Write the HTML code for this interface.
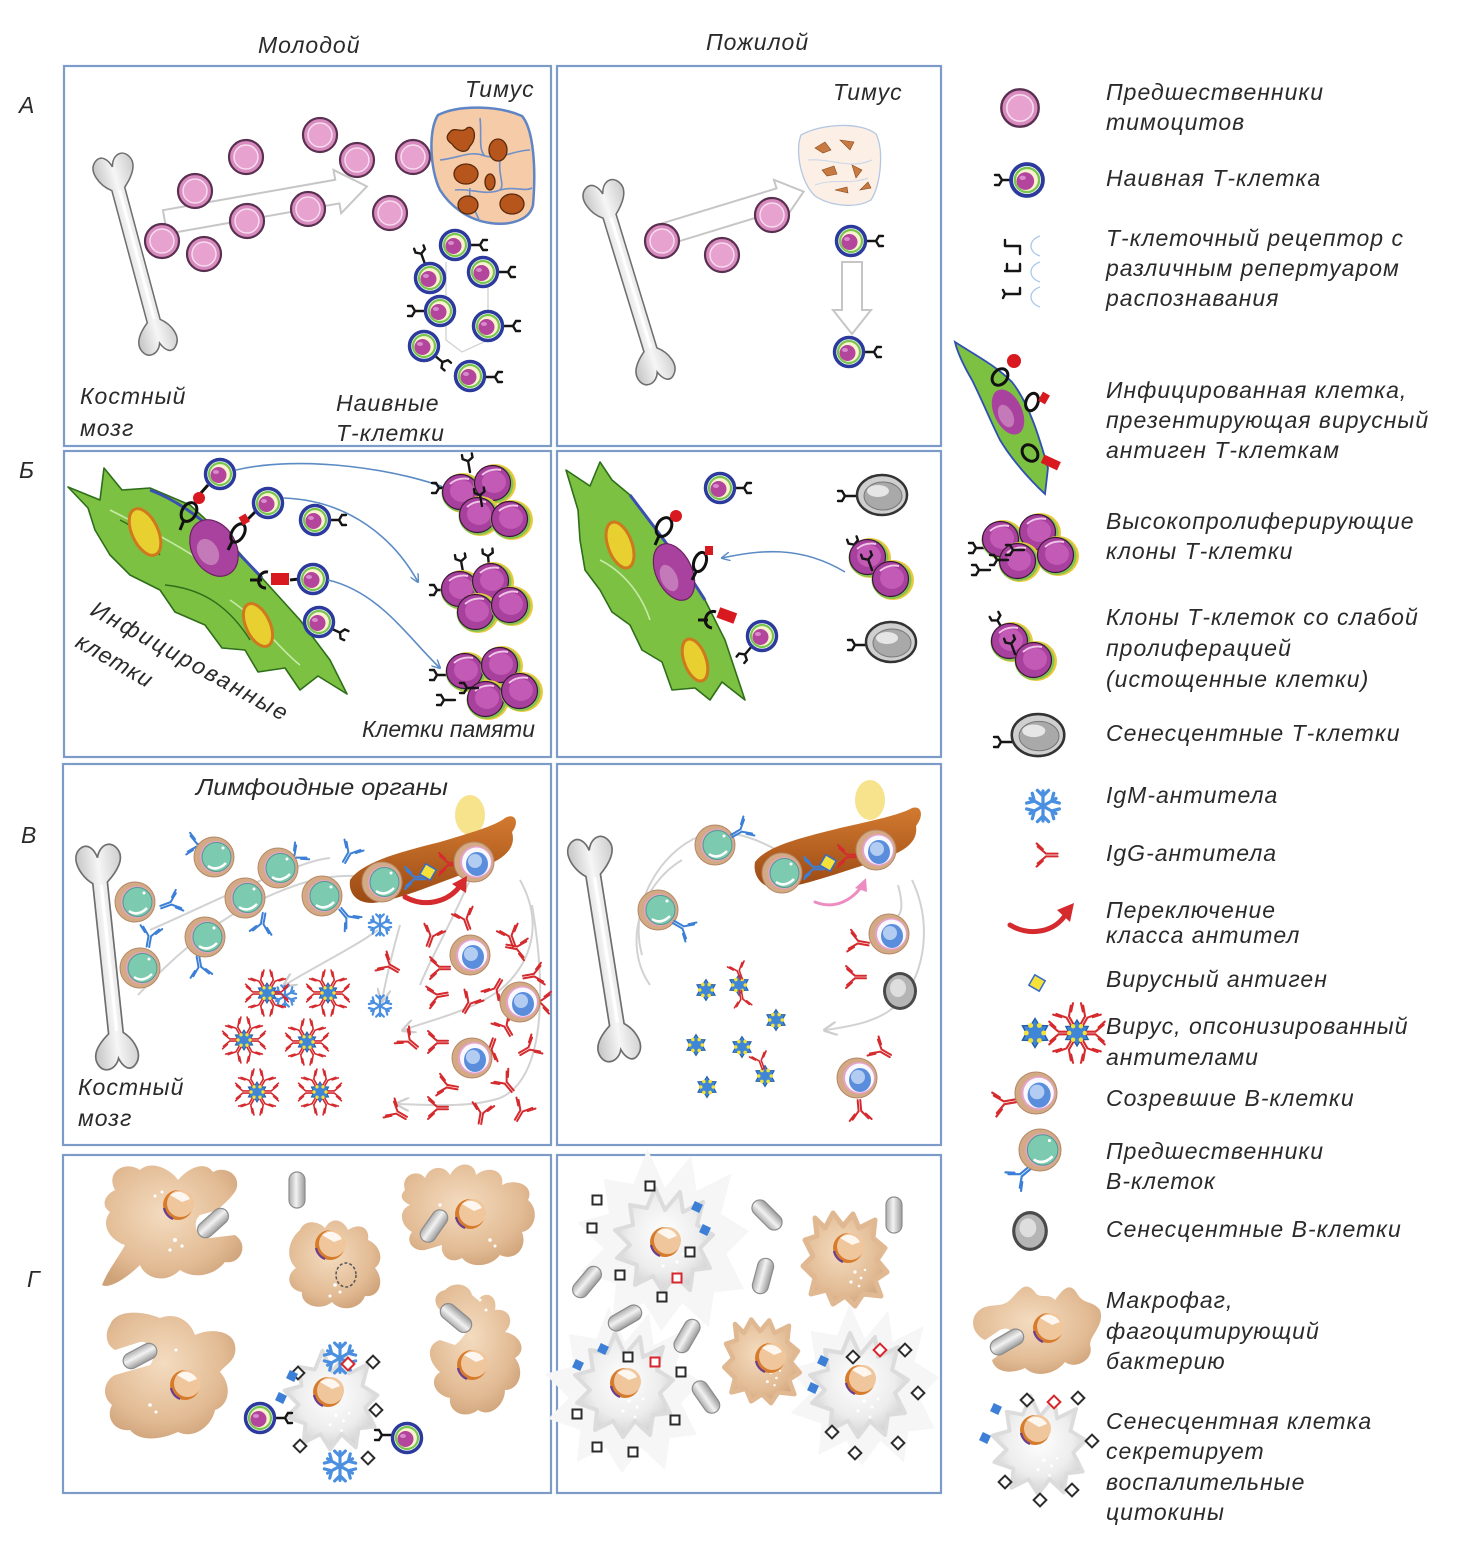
<!DOCTYPE html>
<html><head><meta charset="utf-8">
<style>
html,body{margin:0;padding:0;background:#fff}
svg{display:block}
.t{font-family:"Liberation Sans",sans-serif;font-style:italic;font-size:23px;letter-spacing:1px;fill:#2a2a2a}
.tn{font-family:"Liberation Sans",sans-serif;font-style:italic;font-size:23px;fill:#2a2a2a}
</style></head><body>
<svg width="1459" height="1565" viewBox="0 0 1459 1565" xmlns="http://www.w3.org/2000/svg" xmlns:xlink="http://www.w3.org/1999/xlink">
<defs>
<radialGradient id="macG" cx="45%" cy="40%" r="65%"><stop offset="0" stop-color="#f4dcc0"/><stop offset=".7" stop-color="#e2bb94"/><stop offset="1" stop-color="#cfa37a"/></radialGradient>
<radialGradient id="senG" cx="50%" cy="45%" r="60%"><stop offset="0" stop-color="#ffffff"/><stop offset=".6" stop-color="#ededed"/><stop offset="1" stop-color="#cbcbcb"/></radialGradient>
<linearGradient id="bacG" x1="0" y1="0" x2="1" y2="0"><stop offset="0" stop-color="#adadad"/><stop offset=".45" stop-color="#f2f2f2"/><stop offset="1" stop-color="#9a9a9a"/></linearGradient>
<linearGradient id="dcG" x1="0" y1="0" x2="0" y2="1"><stop offset="0" stop-color="#d27a30"/><stop offset="1" stop-color="#9c4a14"/></linearGradient>
<linearGradient id="boneG" x1="0" y1="0" x2="1" y2="0"><stop offset="0" stop-color="#c4c4c4"/><stop offset=".5" stop-color="#f6f6f6"/><stop offset="1" stop-color="#cdcdcd"/></linearGradient>
<marker id="ba" viewBox="0 0 10 10" refX="9" refY="5" markerWidth="9" markerHeight="9" orient="auto" markerUnits="userSpaceOnUse"><path d="M0,0 L10,5 L0,10" fill="none" stroke="#5b8bc4" stroke-width="1.6"/></marker>
<marker id="ga" viewBox="0 0 10 10" refX="8" refY="5" markerWidth="14" markerHeight="14" orient="auto" markerUnits="userSpaceOnUse"><path d="M0,0 L10,5 L0,10" fill="none" stroke="#cdcdcd" stroke-width="1.6"/></marker>

<g id="thy"><circle r="17" fill="#d98bc0" stroke="#5a3050" stroke-width="2.2"/><circle r="12" fill="#e8a2d0" stroke="#f6dcee" stroke-width="1.5"/></g>
<g id="tcr" fill="none" stroke="#151515" stroke-width="2.4" stroke-linecap="round"><path d="M0,0 H11 M11,0 L14,-5 H18 M11,0 L14,5 H18"/></g>
<g id="nv"><circle r="14.5" fill="#fff" stroke="#2b3a9c" stroke-width="3.5"/><circle r="11" fill="#fbf3cf" stroke="#79c64f" stroke-width="2.2"/><ellipse cx="-1.5" cy="1" rx="8" ry="8" fill="#b3459c"/><ellipse cx="-4" cy="-2" rx="3" ry="2" fill="#d88ccd"/></g>
<g id="mc"><ellipse rx="21" ry="20" fill="#e8c93c"/><ellipse cx="-1.5" cy="0" rx="20" ry="19" fill="#82c452"/><ellipse cx="-2.5" cy="-1" rx="18" ry="17.5" fill="#a8409d" stroke="#3a1738" stroke-width="1.2"/><ellipse cx="-1" cy="-2" rx="12" ry="11" fill="#c35ab6"/><path d="M-13,-9 Q-5,-16 6,-14" stroke="#f0c4e8" stroke-width="2" fill="none"/></g>
<g id="st"><ellipse rx="25" ry="20" fill="#cfcfcf" stroke="#333" stroke-width="2.5"/><ellipse cx="1" cy="1" rx="19" ry="14" fill="#a9a9a9" stroke="#777" stroke-width="1"/><ellipse cx="-4" cy="-4" rx="11" ry="6" fill="#e6e6e6"/></g>
<g id="bp"><circle r="20" fill="#d4a986" stroke="#b48966" stroke-width="1"/><circle cx="2" cy="0" r="16" fill="#e6a2cd"/><circle cx="2.5" cy="0" r="14.5" fill="#7ccab0" stroke="#4f9c84" stroke-width="1"/><path d="M-6,9 Q3,15 12,6" stroke="#fff" stroke-width="2.5" fill="none"/><circle cx="9" cy="-9" r="1.5" fill="#fff"/></g>
<g id="bm"><circle r="20" fill="#d4a986" stroke="#b48966" stroke-width="1"/><circle cx="2" cy="0" r="16" fill="#e6a2cd"/><circle cx="2.5" cy="0" r="14.5" fill="#f8f8ff"/><ellipse cx="3" cy="2" rx="11" ry="12" fill="#5a8ddb"/><ellipse cx="1" cy="-1" rx="7" ry="7" fill="#b3cdf2"/></g>
<g id="bs"><ellipse rx="17" ry="19" fill="#4a4a4a"/><ellipse rx="14" ry="16" fill="#b5b5b5"/><ellipse cx="-2" cy="-3" rx="8" ry="9" fill="#dedede"/></g>
<g id="yr" fill="none" stroke="#d52a2e" stroke-width="2" stroke-linecap="round"><path d="M-1.3,12 V1 L-8,-7 M1.3,12 V1 L8,-7 M-5.5,-2 L-11,-8 M5.5,-2 L11,-8"/></g>
<g id="yb" fill="none" stroke="#3b7fd6" stroke-width="2" stroke-linecap="round"><path d="M-1.3,12 V1 L-8,-7 M1.3,12 V1 L8,-7 M-5.5,-2 L-11,-8 M5.5,-2 L11,-8"/></g>
<g id="sfa"><path d="M0,0 V-12 M0,-8 L-4.5,-12.5 M0,-8 L4.5,-12.5"/></g>
<g id="sf" fill="none" stroke="#4a8fe0" stroke-width="2.6" stroke-linecap="round"><use href="#sfa"/><use href="#sfa" transform="rotate(60)"/><use href="#sfa" transform="rotate(120)"/><use href="#sfa" transform="rotate(180)"/><use href="#sfa" transform="rotate(240)"/><use href="#sfa" transform="rotate(300)"/></g>
<g id="vir"><path d="M0,-10 L3,-5.2 L8.66,-5 L6,0 L8.66,5 L3,5.2 L0,10 L-3,5.2 L-8.66,5 L-6,0 L-8.66,-5 L-3,-5.2 Z" fill="#3f86d6" stroke="#245ea8" stroke-width="1"/><g fill="#f3e23a"><circle cx="3" cy="-5.2" r="1.7"/><circle cx="6" cy="0" r="1.7"/><circle cx="3" cy="5.2" r="1.7"/><circle cx="-3" cy="5.2" r="1.7"/><circle cx="-6" cy="0" r="1.7"/><circle cx="-3" cy="-5.2" r="1.7"/></g></g>
<g id="ops"><use href="#yr" transform="rotate(30) translate(0,-15) scale(.8)"/><use href="#yr" transform="rotate(90) translate(0,-15) scale(.8)"/><use href="#yr" transform="rotate(150) translate(0,-15) scale(.8)"/><use href="#yr" transform="rotate(210) translate(0,-15) scale(.8)"/><use href="#yr" transform="rotate(270) translate(0,-15) scale(.8)"/><use href="#yr" transform="rotate(330) translate(0,-15) scale(.8)"/><use href="#vir"/></g>
<g id="bac"><rect x="-8" y="-18" width="16" height="36" rx="8" fill="url(#bacG)" stroke="#8c8c8c" stroke-width="1.2"/></g>
<g id="dk"><rect x="-4.5" y="-4.5" width="9" height="9" transform="rotate(45)" fill="#fff" stroke="#2b2b2b" stroke-width="2"/></g>
<g id="dr"><rect x="-4.5" y="-4.5" width="9" height="9" transform="rotate(45)" fill="#fff" stroke="#d6262b" stroke-width="2"/></g>
<g id="sk"><rect x="-4.5" y="-4.5" width="9" height="9" fill="#fff" stroke="#2b2b2b" stroke-width="2"/></g>
<g id="sr"><rect x="-4.5" y="-4.5" width="9" height="9" fill="#fff" stroke="#d6262b" stroke-width="2"/></g>
<g id="bq"><rect x="-4.5" y="-4.5" width="9" height="9" transform="rotate(25)" fill="#3d7fd6"/></g>
<g id="nuc"><circle r="15" fill="#d77c2c"/><circle cx="2.5" cy="-1.5" r="13.5" fill="#f0c69c"/><path d="M-8,-10 A13,13 0 0 1 12,-6 L4,-3 Z" fill="#fff" opacity=".85"/><path d="M-14,3 A15,15 0 0 0 -5,14" stroke="#6b3f8f" stroke-width="2.2" fill="none"/></g>
<g id="bone"><path d="M-7,-72 C-18,-80 -26,-98 -16,-106 C-8,-112 -2,-104 0,-96 C3,-108 14,-112 20,-102 C26,-92 16,-80 7,-72 L7,72 C17,80 24,95 15,104 C9,110 3,104 0,96 C-3,106 -15,110 -20,100 C-25,90 -17,80 -7,72 Z" fill="url(#boneG)" stroke="#6e6e6e" stroke-width="1.6"/><path d="M1,-70 V70" stroke="#fff" stroke-width="3"/></g>
<g id="mcb"><path d="M-30,-40 L-20,-30 L-12,-45 L-2,-32 L8,-44 L14,-30 L30,-38 L28,-20 L40,-10 L32,2 L42,14 L30,22 L36,38 L18,36 L10,48 L0,38 L-12,46 L-18,32 L-34,36 L-30,20 L-42,8 L-32,-2 L-40,-18 L-28,-22 Z" fill="url(#macG)" stroke="#e0b892" stroke-width="5" stroke-linejoin="round"/><g fill="#fff"><circle cx="10" cy="14" r="1.6"/><circle cx="16" cy="20" r="1.4"/><circle cx="6" cy="24" r="1.6"/><circle cx="14" cy="28" r="1.3"/><circle cx="20" cy="12" r="1.2"/></g></g>
<g id="sc"><path d="M-35,-35 L-18,-32 L-10,-52 L0,-30 L15,-48 L18,-28 L38,-38 L32,-15 L48,-5 L35,8 L45,28 L28,30 L25,50 L10,36 L-2,52 L-12,36 L-30,45 L-28,25 L-48,18 L-35,5 L-50,-10 L-32,-15 Z" fill="url(#senG)" stroke="#dcdcdc" stroke-width="4" stroke-linejoin="round"/><g fill="#fff"><circle cx="4" cy="16" r="1.8"/><circle cx="12" cy="22" r="1.6"/><circle cx="-2" cy="26" r="1.6"/><circle cx="10" cy="32" r="1.4"/><circle cx="18" cy="14" r="1.4"/></g></g>
<g id="halo"><path d="M-35,-35 L-18,-32 L-10,-52 L0,-30 L15,-48 L18,-28 L38,-38 L32,-15 L48,-5 L35,8 L45,28 L28,30 L25,50 L10,36 L-2,52 L-12,36 L-30,45 L-28,25 L-48,18 L-35,5 L-50,-10 L-32,-15 Z" fill="#f6f6f6"/></g>
</defs>

<!-- Headers -->
<text class="t" x="258" y="53">Молодой</text>
<text class="t" x="706" y="50">Пожилой</text>
<text class="tn" x="19" y="113">А</text>
<text class="tn" x="19" y="478">Б</text>
<text class="tn" x="21" y="843">В</text>
<text class="tn" x="27" y="1287">Г</text>

<!-- Panels -->
<g fill="#fff" stroke="#7d9bc9" stroke-width="2.2">
<rect x="64" y="66" width="487" height="380"/>
<rect x="557" y="66" width="384" height="380"/>
<rect x="64" y="451" width="487" height="306"/>
<rect x="557" y="451" width="384" height="306"/>
<rect x="63" y="764" width="488" height="381"/>
<rect x="557" y="764" width="384" height="381"/>
<rect x="63" y="1155" width="488" height="338"/>
<rect x="557" y="1155" width="384" height="338"/>
</g>

<!-- ===== ROW A left ===== -->
<use href="#bone" transform="translate(136,255) rotate(-15) scale(.95)"/>
<path d="M0,-12 H175 V-22 L205,0 L175,22 V12 H0 Z" transform="translate(165,222) rotate(-10)" fill="#fff" stroke="#c6c6c6" stroke-width="2"/>
<use href="#thy" x="162" y="241"/><use href="#thy" x="195" y="191"/><use href="#thy" x="204" y="254"/>
<use href="#thy" x="246" y="157"/><use href="#thy" x="247" y="221"/><use href="#thy" x="308" y="209"/>
<use href="#thy" x="320" y="135"/><use href="#thy" x="357" y="160"/><use href="#thy" x="390" y="213"/><use href="#thy" x="413" y="157"/>
<path d="M438,115 C460,104 500,106 522,116 C534,130 536,170 533,205 C530,220 510,226 490,223 C468,220 450,206 440,190 C430,170 428,130 438,115 Z" fill="#f6cba8" stroke="#5f85c4" stroke-width="2.5"/>
<g fill="none" stroke="#6f90c8" stroke-width="1.6"><path d="M440,160 C460,158 470,150 485,156 C500,160 515,150 530,150"/><path d="M455,190 C470,188 485,196 500,190 C515,186 525,192 532,188"/><path d="M480,118 C482,135 478,150 485,156 M500,160 C498,175 505,185 500,190 M470,188 C468,200 476,212 480,222"/></g>
<g fill="#b6561c" stroke="#5b2a0a" stroke-width="1.3">
<path d="M450,132 C455,126 462,134 467,128 C474,124 478,138 470,146 C466,156 456,150 452,144 C446,140 446,136 450,132 Z"/>
<ellipse cx="498" cy="150" rx="9" ry="11"/><ellipse cx="466" cy="174" rx="12" ry="10"/><ellipse cx="490" cy="182" rx="5" ry="8"/>
<ellipse cx="468" cy="205" rx="10" ry="9"/><ellipse cx="512" cy="204" rx="12" ry="10"/></g>
<g stroke="#d4d4d4" stroke-width="1.4" fill="none"><path d="M446,262 V340 L462,352 L488,340 V280"/></g>
<use href="#tcr" transform="translate(469,245)"/><use href="#nv" x="455" y="245"/>
<use href="#tcr" transform="translate(497,272)"/><use href="#nv" x="483" y="272"/>
<use href="#tcr" transform="translate(425,264) rotate(-110)"/><use href="#nv" x="430" y="278"/>
<use href="#tcr" transform="translate(502,326)"/><use href="#nv" x="488" y="326"/>
<use href="#tcr" transform="translate(426,311) rotate(180)"/><use href="#nv" x="440" y="311"/>
<use href="#tcr" transform="translate(434,355) rotate(40)"/><use href="#nv" x="424" y="346"/>
<use href="#tcr" transform="translate(484,377)"/><use href="#nv" x="470" y="376"/>
<text class="t" x="80" y="404">Костный</text>
<text class="t" x="80" y="436">мозг</text>
<text class="t" x="465" y="97">Тимус</text>
<text class="t" x="336" y="411">Наивные</text>
<text class="t" x="336" y="441">Т-клетки</text>

<!-- ===== ROW A right ===== -->
<use href="#bone" transform="translate(630,283) rotate(-17) scale(.97)"/>
<path d="M0,-11 H120 V-20 L145,0 L120,20 V11 H0 Z" transform="translate(665,234) rotate(-17)" fill="#fff" stroke="#c6c6c6" stroke-width="2"/>
<use href="#thy" x="662" y="241"/><use href="#thy" x="722" y="255"/><use href="#thy" x="772" y="215"/>
<path d="M801,135 C820,124 860,121 876,134 C884,150 881,185 871,200 C856,209 830,206 815,196 C800,181 795,150 801,135 Z" fill="#fbefe6" stroke="#b3c6e2" stroke-width="1.3"/>
<g fill="#c77a42" stroke="#8a4a1a" stroke-width=".6"><path d="M815,148 l10,-6 l6,8 l-8,3 z"/><path d="M840,140 l14,2 l-4,8 z"/><path d="M822,170 l12,-4 l3,8 l-10,2 z"/><path d="M852,165 l10,5 l-6,8 z"/><path d="M835,190 l12,-3 l1,6 z"/><path d="M860,190 l8,-8 l3,6 z"/></g>
<g fill="none" stroke="#c8d6ea" stroke-width="1"><path d="M808,160 C830,158 850,170 872,160 M815,185 C835,178 850,185 868,178"/></g>
<path d="M0,-10 H48 V-19 L72,0 L48,19 V10 H0 Z" transform="translate(852,262) rotate(90)" fill="#fff" stroke="#c6c6c6" stroke-width="2"/>
<use href="#tcr" transform="translate(865,241)"/><use href="#nv" x="851" y="241"/>
<use href="#tcr" transform="translate(863,352)"/><use href="#nv" x="849" y="352"/>
<text class="t" x="833" y="100">Тимус</text>

<!-- ===== ROW Б left ===== -->
<path d="M68,487 L100,500 L104,468 L122,490 L150,488 L190,505 L228,540 L262,578 L300,620 L330,660 L347,694 L318,676 L300,690 L285,668 L258,672 L245,650 L222,648 L205,625 L175,612 L160,590 L130,575 L110,555 L95,530 L88,508 Z" fill="#7cc142" stroke="#2f6e1a" stroke-width="1.6" stroke-linejoin="round"/>
<path d="M150,490 C190,505 225,538 262,578" fill="none" stroke="#3b4fb0" stroke-width="3"/>
<path d="M165,585 C195,588 225,600 250,640 M120,520 C140,530 150,540 160,555" fill="none" stroke="#2f6e1a" stroke-width="1.4"/>
<path d="M110,510 C130,520 170,540 200,560 M230,600 C260,620 280,650 300,665" fill="none" stroke="#c8eaa8" stroke-width="1.6"/>
<ellipse cx="214" cy="548" rx="22" ry="30" transform="rotate(-30 214 548)" fill="#a9429f" stroke="#6a2060" stroke-width="1.2"/>
<ellipse cx="208" cy="552" rx="10" ry="14" transform="rotate(-30 208 552)" fill="#c47ab8"/>
<ellipse cx="145" cy="532" rx="13" ry="25" transform="rotate(-25 145 532)" fill="#e8d030" stroke="#d0781e" stroke-width="3"/>
<ellipse cx="258" cy="625" rx="12" ry="23" transform="rotate(-25 258 625)" fill="#e8d030" stroke="#d0781e" stroke-width="3"/>
<g fill="none" stroke="#111" stroke-width="3"><path d="M208,485 L200,494"/><ellipse cx="189" cy="512" rx="7" ry="10" transform="rotate(30 189 512)"/><path d="M184,520 L180,530"/>
<path d="M255,512 L245,522"/><ellipse cx="238" cy="533" rx="6" ry="10" transform="rotate(30 238 533)"/><path d="M232,542 L228,550"/>
<path d="M299,579 L290,580"/><path d="M268,572 C258,570 254,588 266,588"/><path d="M262,580 H250"/></g>
<circle cx="199" cy="498" r="6" fill="#d8191f"/><rect x="240" y="515" width="8" height="9" fill="#d8191f" transform="rotate(-30 244 519)"/>
<rect x="271" y="573" width="18" height="12" fill="#d8191f"/>
<use href="#nv" x="220" y="474"/><use href="#nv" x="268" y="503"/>
<use href="#tcr" transform="translate(328,520)"/><use href="#nv" x="315" y="520"/>
<use href="#nv" x="313" y="579"/>
<use href="#tcr" transform="translate(330,628) rotate(25)"/><use href="#nv" x="319" y="622"/>
<g fill="none" stroke="#5b8bc4" stroke-width="1.6" marker-end="url(#ba)"><path d="M236,470 C300,455 400,468 456,492"/><path d="M283,498 C350,500 395,540 418,582"/><path d="M328,580 C380,592 410,640 440,668"/></g>
<use href="#tcr" transform="translate(450,488) rotate(180)"/><use href="#tcr" transform="translate(470,472) rotate(-100)"/>
<use href="#mc" x="463" y="493"/><use href="#mc" x="495" y="484"/><use href="#mc" x="480" y="516"/><use href="#mc" x="512" y="520"/>
<use href="#tcr" transform="translate(482,506) rotate(-100)"/>
<use href="#tcr" transform="translate(448,590) rotate(180)"/><use href="#tcr" transform="translate(463,572) rotate(-100)"/><use href="#tcr" transform="translate(489,567) rotate(-95)"/>
<use href="#mc" x="462" y="590"/><use href="#mc" x="493" y="582"/><use href="#mc" x="478" y="613"/><use href="#mc" x="512" y="606"/>
<use href="#tcr" transform="translate(448,675) rotate(180)"/><use href="#tcr" transform="translate(455,700) rotate(180)"/>
<use href="#mc" x="467" y="672"/><use href="#mc" x="502" y="666"/><use href="#mc" x="488" y="700"/><use href="#mc" x="522" y="692"/>
<use href="#tcr" transform="translate(478,688) rotate(180)"/>
<text class="t" transform="translate(89,614) rotate(29)" textLength="222" lengthAdjust="spacing">Инфицированные</text>
<text class="t" transform="translate(74,646) rotate(30)">клетки</text>
<text class="tn" x="362" y="737" textLength="173" lengthAdjust="spacingAndGlyphs">Клетки памяти</text>

<!-- ===== ROW Б right ===== -->
<path d="M566,470 L590,486 L600,462 L612,480 L630,495 L655,528 L680,560 L705,600 L725,640 L745,700 L722,682 L710,700 L695,688 L672,690 L662,662 L642,650 L630,625 L612,612 L600,590 L585,570 L580,540 L578,510 Z" fill="#7cc142" stroke="#2f6e1a" stroke-width="1.6" stroke-linejoin="round"/>
<path d="M630,495 C655,528 680,560 705,600" fill="none" stroke="#3b4fb0" stroke-width="3"/>
<path d="M600,560 C620,570 640,590 650,620" fill="none" stroke="#c8eaa8" stroke-width="1.6"/>
<ellipse cx="674" cy="572" rx="18" ry="30" transform="rotate(-25 674 572)" fill="#a9429f" stroke="#6a2060" stroke-width="1.2"/>
<ellipse cx="669" cy="578" rx="8" ry="14" transform="rotate(-25 669 578)" fill="#c47ab8"/>
<ellipse cx="620" cy="545" rx="12" ry="24" transform="rotate(-20 620 545)" fill="#e8d030" stroke="#d0781e" stroke-width="3"/>
<ellipse cx="695" cy="660" rx="11" ry="22" transform="rotate(-20 695 660)" fill="#e8d030" stroke="#d0781e" stroke-width="3"/>
<g fill="none" stroke="#111" stroke-width="3"><ellipse cx="664" cy="527" rx="7" ry="10" transform="rotate(30 664 527)"/><path d="M659,536 L655,545"/><ellipse cx="700" cy="562" rx="6" ry="10" transform="rotate(20 700 562)"/><path d="M696,572 L692,580"/><path d="M716,612 C706,608 700,626 712,628 M708,620 H698"/></g>
<circle cx="676" cy="516" r="6" fill="#d8191f"/><rect x="705" y="546" width="8" height="9" fill="#d8191f"/><rect x="718" y="610" width="18" height="11" fill="#d8191f" transform="rotate(20 727 615)"/>
<use href="#tcr" transform="translate(733,488)"/><use href="#nv" x="720" y="488"/>
<use href="#tcr" transform="translate(752,646) rotate(130)"/><use href="#nv" x="762" y="636"/>
<use href="#tcr" transform="translate(856,496) rotate(180)"/><use href="#st" x="882" y="495"/>
<use href="#tcr" transform="translate(866,645) rotate(180)"/><use href="#st" x="891" y="642"/>
<path d="M845,572 C800,545 760,550 722,558" fill="none" stroke="#5b8bc4" stroke-width="1.6" marker-end="url(#ba)"/>
<use href="#tcr" transform="translate(858,555) rotate(-110)"/>
<use href="#mc" x="870" y="558"/><use href="#mc" x="893" y="580"/>
<use href="#tcr" transform="translate(872,570) rotate(-110)"/>

<!-- ===== ROW В left ===== -->
<use href="#bone" transform="translate(108,958) rotate(-6) scale(1.05)"/>
<g fill="none" stroke="#d2d2d2" stroke-width="2">
<path d="M138,995 C170,960 210,925 250,905 C290,885 330,870 370,878"/>
<path d="M150,930 C185,915 225,895 262,880 C290,870 310,860 330,858"/>
<path d="M520,880 C545,925 530,965 500,990 C470,1012 430,1020 404,1030" marker-end="url(#ga)"/>
<path d="M532,905 C548,1000 542,1080 500,1098 C470,1108 430,1105 398,1104" marker-end="url(#ga)"/>
<path d="M378,930 C350,950 308,970 285,985" marker-end="url(#ga)"/>
<path d="M400,925 C390,960 385,985 382,1000" marker-end="url(#ga)"/>
<path d="M470,880 C450,925 430,960 420,985"/>
</g>
<g>
<use href="#yb" transform="translate(172,903) rotate(70)"/><use href="#yb" transform="translate(150,935) rotate(10)"/>
<use href="#yb" transform="translate(196,845) rotate(-80)"/><use href="#yb" transform="translate(296,856) rotate(50)"/>
<use href="#yb" transform="translate(348,918) rotate(140)"/><use href="#yb" transform="translate(262,925) rotate(190)"/>
<use href="#yb" transform="translate(200,968) rotate(170)"/><use href="#yb" transform="translate(350,852) rotate(30)"/>
</g>
<use href="#bp" x="135" y="902"/><use href="#bp" x="214" y="857"/><use href="#bp" x="278" y="868"/><use href="#bp" x="322" y="896"/>
<use href="#bp" x="245" y="898"/><use href="#bp" x="205" y="937"/><use href="#bp" x="140" y="968"/>
<ellipse cx="470" cy="815" rx="15" ry="20" fill="#f6e38c"/>
<path d="M350,880 C362,862 400,852 440,842 C470,833 495,826 505,818 C515,812 520,822 512,832 C516,846 508,858 480,868 C450,878 410,896 380,902 C360,906 348,896 350,880 Z" fill="url(#dcG)"/>
<use href="#bp" x="382" y="882"/>
<use href="#yb" transform="translate(413,878) rotate(-90)"/>
<rect x="422" y="866" width="12" height="12" transform="rotate(30 428 872)" fill="#f4e23a" stroke="#3a6ac8" stroke-width="1.5"/>
<use href="#yr" transform="translate(447,864) rotate(-90)"/>
<use href="#bm" x="474" y="862"/>
<path d="M405,897 C425,908 448,902 460,886" fill="none" stroke="#d52a2e" stroke-width="5" stroke-linecap="round"/>
<path d="M452,884 L467,876 L466,893 Z" fill="#d52a2e"/>
<use href="#sf" transform="translate(380,925) scale(.85)"/><use href="#sf" transform="translate(380,1006) scale(.85)"/><use href="#sf" transform="translate(285,996) scale(.85)"/>
<use href="#ops" x="267" y="993"/><use href="#ops" x="328" y="993"/><use href="#ops" x="244" y="1040"/><use href="#ops" x="307" y="1042"/><use href="#ops" x="257" y="1092"/><use href="#ops" x="320" y="1092"/>
<g>
<use href="#yr" transform="translate(388,965) rotate(-60)"/><use href="#yr" transform="translate(432,935) rotate(20)"/><use href="#yr" transform="translate(510,935) rotate(-20)"/>
<use href="#yr" transform="translate(535,975) rotate(80)"/><use href="#yr" transform="translate(518,948) rotate(100)"/><use href="#yr" transform="translate(438,968) rotate(-90)"/>
<use href="#yr" transform="translate(436,996) rotate(-100)"/><use href="#yr" transform="translate(470,1002) rotate(30)"/><use href="#yr" transform="translate(490,1050) rotate(200)"/>
<use href="#yr" transform="translate(505,1025) rotate(-30)"/><use href="#yr" transform="translate(530,1048) rotate(60)"/><use href="#yr" transform="translate(436,1042) rotate(-90)"/>
<use href="#yr" transform="translate(446,1086) rotate(-80)"/><use href="#yr" transform="translate(505,1082) rotate(-40)"/><use href="#yr" transform="translate(522,1110) rotate(30)"/>
<use href="#yr" transform="translate(396,1112) rotate(-60)"/><use href="#yr" transform="translate(436,1108) rotate(-90)"/><use href="#yr" transform="translate(482,1112) rotate(10)"/>
<use href="#yr" transform="translate(408,1040) rotate(-50)"/><use href="#yr" transform="translate(542,1002) rotate(95)"/><use href="#yr" transform="translate(465,918) rotate(-20)"/>
<use href="#yr" transform="translate(495,990) rotate(210)"/>
</g>
<use href="#bm" x="470" y="955"/><use href="#bm" x="520" y="1002"/><use href="#bm" x="472" y="1058"/>
<text class="tn" x="196" y="795" textLength="252" lengthAdjust="spacingAndGlyphs">Лимфоидные органы</text>
<text class="t" x="78" y="1095">Костный</text>
<text class="t" x="78" y="1126">мозг</text>

<!-- ===== ROW В right ===== -->
<use href="#bone" transform="translate(605,950) rotate(-9) scale(1.05)"/>
<g fill="none" stroke="#d2d2d2" stroke-width="2">
<path d="M642,955 C628,905 660,852 700,836 C732,826 765,842 790,858" marker-end="url(#ga)"/>
<path d="M650,985 C622,945 640,885 682,860"/>
<path d="M912,880 C932,922 926,972 900,1002 C880,1022 852,1026 826,1030" marker-end="url(#ga)"/>
<path d="M898,885 C905,910 900,920 892,915"/>
</g>
<use href="#bp" x="715" y="845"/><use href="#yb" transform="translate(742,830) rotate(60)"/>
<use href="#bp" x="658" y="910"/><use href="#yb" transform="translate(684,928) rotate(120)"/>
<ellipse cx="870" cy="800" rx="15" ry="20" fill="#f6e38c"/>
<path d="M755,862 C767,846 800,838 840,828 C870,821 900,815 912,808 C922,805 924,816 916,826 C918,840 908,850 885,858 C855,868 815,882 785,888 C765,892 752,878 755,862 Z" fill="url(#dcG)"/>
<use href="#bp" x="782" y="873"/>
<use href="#yb" transform="translate(812,868) rotate(-90)"/>
<rect x="822" y="857" width="12" height="12" transform="rotate(30 828 863)" fill="#f4e23a" stroke="#3a6ac8" stroke-width="1.5"/>
<use href="#yr" transform="translate(846,856) rotate(-90)"/>
<use href="#bm" x="876" y="850"/>
<path d="M815,902 C835,910 852,900 862,886" fill="none" stroke="#ec8cc0" stroke-width="3" stroke-linecap="round"/>
<path d="M855,888 L866,878 L867,892 Z" fill="#ec8cc0"/>
<use href="#bm" x="889" y="934"/><use href="#yr" transform="translate(857,942) rotate(-80)"/>
<use href="#yr" transform="translate(854,977) rotate(-90)"/>
<use href="#bs" x="900" y="991"/>
<use href="#yr" transform="translate(880,1050) rotate(-60)"/>
<use href="#bm" x="857" y="1078"/><use href="#yr" transform="translate(860,1112) rotate(175)"/>
<use href="#vir" transform="translate(706,990) scale(1.05)"/><use href="#vir" transform="translate(776,1020) scale(1.05)"/>
<use href="#vir" transform="translate(696,1045) scale(1.05)"/><use href="#vir" transform="translate(742,1047) scale(1.05)"/><use href="#vir" transform="translate(707,1087) scale(1.05)"/>
<use href="#vir" transform="translate(739,985) scale(1.05)"/><use href="#yr" transform="translate(738,970) rotate(-20) scale(.8)"/><use href="#yr" transform="translate(742,1000) rotate(170) scale(.8)"/>
<use href="#vir" transform="translate(765,1076) scale(1.05)"/><use href="#yr" transform="translate(760,1060) rotate(-20) scale(.8)"/>

<!-- ===== ROW Г left ===== -->
<g fill="url(#macG)">
<path d="M115,1190 C105,1172 125,1160 140,1170 C150,1160 170,1168 178,1180 C188,1168 205,1160 213,1172 C225,1165 242,1175 236,1190 C230,1200 222,1205 218,1210 L200,1215 C192,1222 195,1238 210,1238 L235,1235 C250,1245 240,1265 225,1262 C215,1275 195,1280 180,1270 C165,1285 145,1278 140,1265 C130,1275 110,1290 102,1285 C108,1270 120,1255 125,1245 C110,1240 100,1225 110,1212 C100,1205 105,1195 115,1190 Z"/>
<path d="M300,1230 C305,1218 320,1222 325,1228 C333,1214 345,1222 348,1230 C360,1222 370,1228 368,1240 C380,1245 385,1260 375,1268 C385,1280 380,1298 365,1296 C360,1310 340,1312 332,1302 C320,1312 300,1305 302,1292 C288,1290 285,1275 296,1268 C285,1258 288,1240 300,1230 Z"/>
<path d="M405,1190 C400,1175 418,1168 425,1178 C430,1165 445,1165 450,1175 C458,1160 475,1162 476,1175 C488,1165 505,1170 502,1185 C515,1178 535,1185 528,1200 C540,1210 535,1230 522,1232 C528,1248 515,1262 500,1255 C490,1268 470,1268 462,1258 C450,1265 440,1255 442,1245 L425,1250 C412,1252 405,1240 412,1232 C400,1225 398,1210 410,1205 C400,1200 400,1195 405,1190 Z"/>
<path d="M110,1325 C115,1310 140,1310 160,1318 C175,1312 190,1320 195,1335 C210,1328 232,1330 235,1345 C238,1360 225,1365 220,1372 C232,1385 230,1405 215,1410 C212,1425 195,1440 178,1432 C160,1440 140,1442 130,1430 C115,1432 105,1418 112,1405 C100,1395 105,1380 115,1375 L150,1365 C158,1355 150,1340 140,1342 L115,1350 C105,1345 105,1332 110,1325 Z"/>
<path d="M445,1290 C455,1280 470,1285 472,1295 L478,1300 C485,1290 498,1295 495,1310 C510,1308 515,1322 505,1332 C520,1335 528,1350 515,1358 C525,1370 520,1390 505,1390 C505,1405 490,1418 478,1410 C465,1420 448,1412 450,1398 C435,1395 428,1380 440,1372 C428,1362 425,1345 440,1340 L455,1345 C462,1340 468,1330 470,1325 L440,1310 C432,1302 435,1292 445,1290 Z"/>
</g>
<g fill="#fff"><circle cx="175" cy="1240" r="2"/><circle cx="182" cy="1246" r="1.6"/><circle cx="170" cy="1250" r="1.6"/><circle cx="155" cy="1196" r="1.5"/><circle cx="162" cy="1192" r="1.5"/>
<circle cx="335" cy="1285" r="1.8"/><circle cx="340" cy="1292" r="1.5"/><circle cx="330" cy="1296" r="1.5"/>
<circle cx="490" cy="1240" r="1.8"/><circle cx="495" cy="1246" r="1.5"/><circle cx="440" cy="1205" r="1.6"/>
<circle cx="150" cy="1405" r="1.8"/><circle cx="156" cy="1412" r="1.5"/><circle cx="176" cy="1350" r="1.5"/>
<circle cx="480" cy="1300" r="1.5"/><circle cx="486" cy="1310" r="1.5"/></g>
<ellipse cx="346" cy="1275" rx="10" ry="12" fill="none" stroke="#555" stroke-width="1.5" stroke-dasharray="3 2"/>
<use href="#nuc" x="178" y="1205"/><use href="#nuc" x="330" y="1245"/><use href="#nuc" x="470" y="1214"/><use href="#nuc" x="185" y="1385"/><use href="#nuc" x="472" y="1365"/>
<use href="#bac" transform="translate(213,1223) rotate(48)"/>
<use href="#bac" transform="translate(297,1190)"/>
<use href="#bac" transform="translate(434,1226) rotate(35)"/>
<use href="#bac" transform="translate(140,1356) rotate(62)"/>
<use href="#bac" transform="translate(456,1318) rotate(-50)"/>
<use href="#sc" transform="translate(332,1400) scale(.95)"/>
<use href="#nuc" x="328" y="1392"/>
<use href="#sf" transform="translate(340,1358) scale(1.2)"/><use href="#sf" transform="translate(340,1466) scale(1.2)"/>
<use href="#tcr" transform="translate(274,1418)"/><use href="#nv" x="260" y="1418"/>
<use href="#tcr" transform="translate(393,1435) rotate(180)"/><use href="#nv" x="407" y="1438"/>
<use href="#dk" x="373" y="1362"/><use href="#dk" x="298" y="1373"/><use href="#dk" x="376" y="1410"/><use href="#dk" x="300" y="1446"/><use href="#dk" x="368" y="1458"/><use href="#dr" x="348" y="1364"/>
<use href="#bq" x="292" y="1376"/><use href="#bq" x="281" y="1398"/>

<!-- ===== ROW Г right ===== -->
<use href="#halo" transform="translate(665,1240) scale(1.75)"/>
<use href="#halo" transform="translate(625,1390) scale(1.6)"/>
<use href="#halo" transform="translate(865,1385) scale(1.55)"/>
<use href="#sc" transform="translate(665,1240)"/><use href="#nuc" x="665" y="1242"/>
<use href="#sc" transform="translate(625,1385)"/><use href="#nuc" x="625" y="1383"/>
<use href="#sc" transform="translate(860,1385)"/><use href="#nuc" x="860" y="1380"/>
<use href="#mcb" transform="translate(845,1258)"/><use href="#nuc" x="848" y="1248"/>
<use href="#mcb" transform="translate(762,1360) scale(.9)"/><use href="#nuc" x="770" y="1358"/>
<use href="#bac" transform="translate(587,1282) rotate(40)"/><use href="#bac" transform="translate(625,1318) rotate(60)"/>
<use href="#bac" transform="translate(767,1215) rotate(-45)"/><use href="#bac" transform="translate(763,1276) rotate(15)"/>
<use href="#bac" transform="translate(687,1336) rotate(30)"/><use href="#bac" transform="translate(706,1397) rotate(-35)"/><use href="#bac" transform="translate(894,1215)"/>
<g>
<use href="#sk" x="650" y="1186"/><use href="#sk" x="597" y="1200"/><use href="#sk" x="592" y="1228"/><use href="#sk" x="620" y="1275"/><use href="#sk" x="690" y="1252"/>
<use href="#sk" x="662" y="1297"/><use href="#sk" x="628" y="1357"/><use href="#sk" x="681" y="1372"/><use href="#sk" x="577" y="1414"/><use href="#sk" x="597" y="1447"/><use href="#sk" x="633" y="1452"/><use href="#sk" x="675" y="1420"/>
<use href="#sr" x="677" y="1278"/><use href="#sr" x="655" y="1362"/>
<use href="#bq" x="697" y="1207"/><use href="#bq" x="705" y="1230"/><use href="#bq" x="578" y="1365"/><use href="#bq" x="603" y="1349"/><use href="#bq" x="823" y="1361"/><use href="#bq" x="813" y="1388"/>
<use href="#dk" x="853" y="1357"/><use href="#dk" x="905" y="1350"/><use href="#dk" x="918" y="1393"/><use href="#dk" x="832" y="1432"/><use href="#dk" x="898" y="1443"/><use href="#dk" x="855" y="1453"/><use href="#dr" x="880" y="1350"/>
</g>

<!-- ===== LEGEND ===== -->
<use href="#thy" transform="translate(1020,108) scale(1.1)"/>
<use href="#tcr" transform="translate(1013,180) rotate(180)"/><use href="#nv" transform="translate(1027,180) scale(1.1)"/>
<g fill="none" stroke="#151515" stroke-width="2.4" stroke-linecap="round">
<path d="M1005,246 H1020 M1005,246 V240 M1020,246 V254"/><path d="M1005,271 H1020 M1007,264 V271 M1020,264 V271"/><path d="M1005,294 H1020 M1003,290 L1005,294 L1003,298 M1020,294 V288"/>
</g>
<g fill="none" stroke="#a8c8ea" stroke-width="1.3"><path d="M1040,236 C1028,240 1028,252 1040,256"/><path d="M1040,262 C1028,266 1028,278 1040,282"/><path d="M1040,287 C1028,291 1028,303 1040,307"/></g>
<path d="M955,342 C975,355 995,365 1012,382 C1030,405 1040,440 1048,468 L1045,494 C1030,480 1012,460 1000,440 C990,420 982,400 972,380 C965,368 958,355 955,342 Z" fill="#7cc142" stroke="#2f50b0" stroke-width="1.8"/>
<ellipse cx="1008" cy="412" rx="14" ry="24" transform="rotate(-25 1008 412)" fill="#a9429f"/>
<ellipse cx="1006" cy="416" rx="7" ry="12" transform="rotate(-25 1006 416)" fill="#c47ab8"/>
<g fill="none" stroke="#111" stroke-width="3"><ellipse cx="1000" cy="377" rx="7" ry="9" transform="rotate(40 1000 377)"/><ellipse cx="1032" cy="402" rx="6" ry="9" transform="rotate(20 1032 402)"/><ellipse cx="1030" cy="453" rx="7" ry="9" transform="rotate(-40 1030 453)"/></g>
<circle cx="1014" cy="361" r="7" fill="#d8191f"/><rect x="1040" y="393" width="8" height="10" fill="#d8191f" transform="rotate(30 1044 398)"/><rect x="1042" y="458" width="18" height="9" fill="#d8191f" transform="rotate(25 1051 462)"/>
<use href="#tcr" transform="translate(987,548) rotate(180)"/><use href="#tcr" transform="translate(990,570) rotate(180)"/>
<use href="#mc" x="1003" y="540"/><use href="#mc" x="1040" y="533"/><use href="#mc" x="1020" y="562"/><use href="#mc" x="1058" y="556"/>
<use href="#tcr" transform="translate(1008,560) rotate(180)"/><use href="#tcr" transform="translate(1024,550) rotate(180)"/>
<use href="#tcr" transform="translate(1003,630) rotate(-120)"/>
<use href="#mc" x="1012" y="642"/><use href="#mc" x="1036" y="661"/>
<use href="#tcr" transform="translate(1015,654) rotate(-110)"/>
<use href="#tcr" transform="translate(1012,742) rotate(180)"/><use href="#st" transform="translate(1038,735) scale(1.05)"/>
<use href="#sf" transform="translate(1043,806) scale(1.25)"/>
<use href="#yr" transform="translate(1045,855) rotate(-90) scale(1.05)"/>
<path d="M1010,925 C1030,937 1055,932 1066,914" fill="none" stroke="#d52a2e" stroke-width="5" stroke-linecap="round"/>
<path d="M1057,910 L1074,903 L1070,922 Z" fill="#d52a2e"/>
<rect x="1031" y="977" width="12" height="12" transform="rotate(30 1037 983)" fill="#f4e23a" stroke="#3a6ac8" stroke-width="1.5"/>
<use href="#vir" transform="translate(1035,1033) scale(1.45)"/>
<use href="#ops" transform="translate(1077,1033) scale(1.3)"/>
<use href="#yr" transform="translate(1003,1103) rotate(-100) scale(1.1)"/><use href="#bm" transform="translate(1036,1093) scale(1.05)"/>
<use href="#yb" transform="translate(1020,1176) rotate(-130) scale(1.1)"/><use href="#bp" transform="translate(1040,1150) scale(1.05)"/>
<use href="#bs" transform="translate(1030,1231) scale(1.05)"/>
<path d="M975,1315 C985,1300 1000,1310 1010,1300 C1020,1290 1025,1280 1035,1292 C1040,1300 1048,1292 1055,1300 C1062,1290 1070,1280 1078,1295 C1085,1305 1092,1300 1100,1310 C1105,1325 1090,1335 1090,1345 C1095,1360 1075,1370 1065,1362 C1055,1375 1035,1378 1025,1368 C1010,1375 995,1372 992,1360 L1012,1345 C1018,1335 1010,1325 1000,1330 L985,1340 C975,1335 970,1325 975,1315 Z" fill="url(#macG)"/>
<use href="#bac" transform="translate(1007,1342) rotate(60)"/>
<use href="#nuc" x="1048" y="1328"/>
<use href="#sc" transform="translate(1040,1445) scale(.95)"/><use href="#nuc" x="1035" y="1430"/>
<use href="#bq" x="996" y="1409"/><use href="#bq" x="985" y="1438"/>
<use href="#dk" x="1027" y="1400"/><use href="#dr" x="1054" y="1402"/><use href="#dk" x="1078" y="1398"/><use href="#dk" x="1092" y="1441"/><use href="#dk" x="1005" y="1482"/><use href="#dk" x="1040" y="1500"/><use href="#dk" x="1072" y="1490"/>

<g class="t">
<text x="1106" y="100">Предшественники</text>
<text x="1106" y="130">тимоцитов</text>
<text x="1106" y="186">Наивная Т-клетка</text>
<text x="1106" y="246">Т-клеточный рецептор с</text>
<text x="1106" y="276">различным репертуаром</text>
<text x="1106" y="306">распознавания</text>
<text x="1106" y="398">Инфицированная клетка,</text>
<text x="1106" y="428">презентирующая вирусный</text>
<text x="1106" y="458">антиген Т-клеткам</text>
<text x="1106" y="529">Высокопролиферирующие</text>
<text x="1106" y="559">клоны Т-клетки</text>
<text x="1106" y="625">Клоны Т-клеток со слабой</text>
<text x="1106" y="656">пролиферацией</text>
<text x="1106" y="687">(истощенные клетки)</text>
<text x="1106" y="741">Сенесцентные Т-клетки</text>
<text x="1106" y="803">IgM-антитела</text>
<text x="1106" y="861">IgG-антитела</text>
<text x="1106" y="918">Переключение</text>
<text x="1106" y="943">класса антител</text>
<text x="1106" y="987">Вирусный антиген</text>
<text x="1106" y="1034">Вирус, опсонизированный</text>
<text x="1106" y="1065">антителами</text>
<text x="1106" y="1106">Созревшие В-клетки</text>
<text x="1106" y="1159">Предшественники</text>
<text x="1106" y="1189">В-клеток</text>
<text x="1106" y="1237">Сенесцентные В-клетки</text>
<text x="1106" y="1308">Макрофаг,</text>
<text x="1106" y="1339">фагоцитирующий</text>
<text x="1106" y="1369">бактерию</text>
<text x="1106" y="1429">Сенесцентная клетка</text>
<text x="1106" y="1459">секретирует</text>
<text x="1106" y="1490">воспалительные</text>
<text x="1106" y="1520">цитокины</text>
</g>
</svg>
</body></html>
